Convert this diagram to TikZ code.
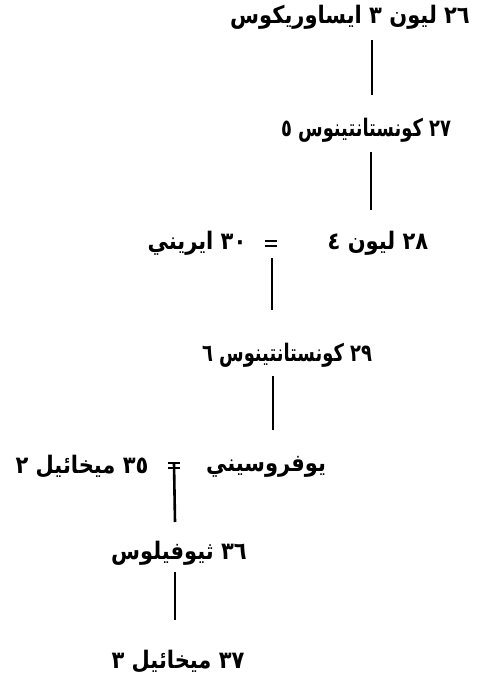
\documentclass[tikz,border=0pt]{standalone}
\usepackage{fontspec}
\TeXXeTstate=1
\newfontfamily\arabicfont[Script=Arabic]{DejaVu Sans Bold}
\newcommand\arline[2][1]{\scalebox{#1}[1.15]{\beginR #2\endR}}
\begin{document}
\begin{tikzpicture}[x=1pt,y=-1pt,
  person/.style={font=\arabicfont\fontsize{21}{24}\selectfont, inner sep=0pt, text=black},
  link/.style={line width=2.6pt, draw=black},
  marr/.style={line width=1.8pt, draw=black}]
\useasboundingbox (0,0) rectangle (482,677);
% people
\node[person] (n26) at (350,17) {\arline{٢٦ ليون ٣ ايساوريكوس}};
\node[person] (n27) at (366,130) {\arline[0.85]{٢٧ كونستانتينوس ٥}};
\node[person] (n28) at (378,243) {\arline{٢٨ ليون ٤}};
\node[person] (n30) at (197,243) {\arline{٣٠ ايريني}};
\node[person] (n29) at (287,355) {\arline[0.85]{٢٩ كونستانتينوس ٦}};
\node[person] (euph) at (266,467) {\arline{يوفروسيني}};
\node[person] (n35) at (82,467) {\arline{٣٥ ميخائيل ٢}};
\node[person] (n36) at (179,553) {\arline{٣٦ ثيوفيلوس}};
\node[person] (n37) at (178,662) {\arline{٣٧ ميخائيل ٣}};
% marriage marks
\coordinate (m1) at (271,241);
\draw[marr] ([xshift=-6pt]m1) -- ([xshift=6pt]m1);
\draw[marr] ([xshift=-6pt,yshift=-5pt]m1) -- ([xshift=6pt,yshift=-5pt]m1);
\coordinate (m2) at (174,463);
\draw[marr] ([xshift=-6pt]m2) -- ([xshift=6pt]m2);
\draw[marr] ([xshift=-6pt,yshift=-5pt]m2) -- ([xshift=6pt,yshift=-5pt]m2);
% descent lines
\coordinate (a1) at (372,40);  \coordinate (a2) at (372,95);
\coordinate (b1) at (371,152); \coordinate (b2) at (371,210);
\coordinate (c1) at (272,258); \coordinate (c2) at (272,310);
\coordinate (d1) at (273,376); \coordinate (d2) at (273,430);
\coordinate (e2) at (175,522);
\coordinate (f1) at (175,572); \coordinate (f2) at (175,620);
\draw[link] (a1) -- (a2);
\draw[link] (b1) -- (b2);
\draw[link] (c1) -- (c2);
\draw[link] (d1) -- (d2);
\draw[link] (m2) -- (e2);
\draw[link] (f1) -- (f2);
\end{tikzpicture}
\end{document}
